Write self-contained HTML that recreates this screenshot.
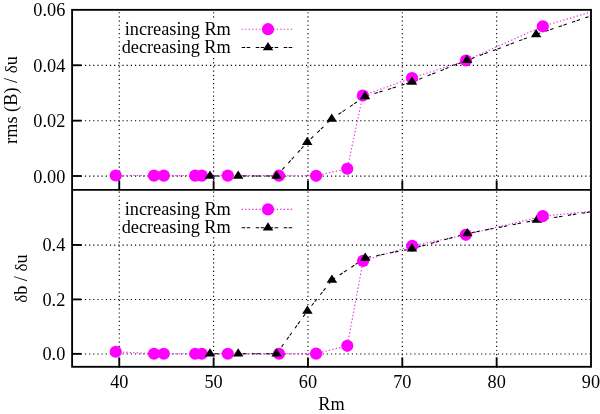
<!DOCTYPE html>
<html><head><meta charset="utf-8"><style>
html,body{margin:0;padding:0;background:#fff;}
body{width:600px;height:414px;overflow:hidden;font-family:"Liberation Serif",serif;}
svg{display:block;will-change:transform}
text{font-family:"Liberation Serif",serif;fill:#000}
</style></head><body>
<svg width="600" height="414" viewBox="0 0 600 414">
<rect width="600" height="414" fill="#fff"/>

<g stroke="#000" stroke-width="1.1" stroke-dasharray="1.2 2.97" fill="none">
<line x1="119.27" y1="367.8" x2="119.27" y2="9.85"/>
<line x1="213.62" y1="367.8" x2="213.62" y2="9.85"/>
<line x1="307.96" y1="367.8" x2="307.96" y2="9.85"/>
<line x1="402.31" y1="367.8" x2="402.31" y2="9.85"/>
<line x1="496.65" y1="367.8" x2="496.65" y2="9.85"/>
<line x1="72.39999999999999" y1="65.4" x2="591.0" y2="65.4"/>
<line x1="72.39999999999999" y1="120.80000000000001" x2="591.0" y2="120.80000000000001"/>
<line x1="72.39999999999999" y1="176.15" x2="591.0" y2="176.15"/>
<line x1="72.39999999999999" y1="245.1" x2="591.0" y2="245.1"/>
<line x1="72.39999999999999" y1="299.54999999999995" x2="591.0" y2="299.54999999999995"/>
<line x1="72.39999999999999" y1="354.0" x2="591.0" y2="354.0"/>
</g>
<polyline points="115.75,175.50 154.00,175.60 163.80,175.60 195.20,175.60 201.80,175.60 227.80,175.60 279.00,175.70 316.10,175.80 347.25,168.75 362.80,95.50 412.00,78.00 466.00,60.50 542.80,26.30 591.00,12.00" fill="none" stroke="#ea20ea" stroke-opacity="0.95" stroke-width="1.1" stroke-dasharray="1.4 2.1"/>
<polyline points="210.00,175.90 238.20,175.90 276.60,175.90 307.20,142.30 331.70,118.90 365.00,96.50 412.00,82.00 467.00,60.30 536.10,34.50 591.00,15.80" fill="none" stroke="#000" stroke-width="1.05" stroke-dasharray="3.5 1.5 3.5 5.5"/>
<circle cx="115.75" cy="175.50" r="6.1" fill="#ff00ff"/>
<circle cx="154.00" cy="175.60" r="6.1" fill="#ff00ff"/>
<circle cx="163.80" cy="175.60" r="6.1" fill="#ff00ff"/>
<circle cx="195.20" cy="175.60" r="6.1" fill="#ff00ff"/>
<circle cx="201.80" cy="175.60" r="6.1" fill="#ff00ff"/>
<circle cx="227.80" cy="175.60" r="6.1" fill="#ff00ff"/>
<circle cx="279.00" cy="175.70" r="6.1" fill="#ff00ff"/>
<circle cx="316.10" cy="175.80" r="6.1" fill="#ff00ff"/>
<circle cx="347.25" cy="168.75" r="6.1" fill="#ff00ff"/>
<circle cx="362.80" cy="95.50" r="6.1" fill="#ff00ff"/>
<circle cx="412.00" cy="78.00" r="6.1" fill="#ff00ff"/>
<circle cx="466.00" cy="60.50" r="6.1" fill="#ff00ff"/>
<path d="M210.00,170.39 L204.75,178.65 L215.25,178.65 Z" fill="#000"/>
<path d="M238.20,170.39 L232.95,178.65 L243.45,178.65 Z" fill="#000"/>
<path d="M276.60,170.39 L271.35,178.65 L281.85,178.65 Z" fill="#000"/>
<path d="M307.20,136.79 L301.95,145.05 L312.45,145.05 Z" fill="#000"/>
<path d="M331.70,113.39 L326.45,121.65 L336.95,121.65 Z" fill="#000"/>
<path d="M365.00,90.99 L359.75,99.25 L370.25,99.25 Z" fill="#000"/>
<path d="M412.00,76.49 L406.75,84.75 L417.25,84.75 Z" fill="#000"/>
<path d="M467.00,54.79 L461.75,63.05 L472.25,63.05 Z" fill="#000"/>
<path d="M536.10,28.99 L530.85,37.25 L541.35,37.25 Z" fill="#000"/>
<circle cx="542.80" cy="26.30" r="6.1" fill="#ff00ff"/>
<polyline points="115.75,351.75 154.00,353.75 163.80,353.75 195.20,353.75 201.80,353.75 227.80,353.75 279.00,353.75 316.10,353.60 347.30,345.80 363.10,260.90 412.25,245.75 465.80,234.80 542.80,216.10 591.00,211.30" fill="none" stroke="#ea20ea" stroke-opacity="0.95" stroke-width="1.1" stroke-dasharray="1.4 2.1"/>
<polyline points="210.00,353.70 238.20,353.70 276.60,353.70 307.40,311.00 331.90,280.10 365.30,257.90 412.00,248.70 467.30,233.50 537.00,220.00 591.00,211.90" fill="none" stroke="#000" stroke-width="1.05" stroke-dasharray="3.5 1.5 3.5 5.5"/>
<circle cx="115.75" cy="351.75" r="6.1" fill="#ff00ff"/>
<circle cx="154.00" cy="353.75" r="6.1" fill="#ff00ff"/>
<circle cx="163.80" cy="353.75" r="6.1" fill="#ff00ff"/>
<circle cx="195.20" cy="353.75" r="6.1" fill="#ff00ff"/>
<circle cx="201.80" cy="353.75" r="6.1" fill="#ff00ff"/>
<circle cx="227.80" cy="353.75" r="6.1" fill="#ff00ff"/>
<circle cx="279.00" cy="353.75" r="6.1" fill="#ff00ff"/>
<circle cx="316.10" cy="353.60" r="6.1" fill="#ff00ff"/>
<circle cx="347.30" cy="345.80" r="6.1" fill="#ff00ff"/>
<circle cx="363.10" cy="260.90" r="6.1" fill="#ff00ff"/>
<circle cx="412.25" cy="245.75" r="6.1" fill="#ff00ff"/>
<circle cx="465.80" cy="234.80" r="6.1" fill="#ff00ff"/>
<path d="M210.00,348.19 L204.75,356.45 L215.25,356.45 Z" fill="#000"/>
<path d="M238.20,348.19 L232.95,356.45 L243.45,356.45 Z" fill="#000"/>
<path d="M276.60,348.19 L271.35,356.45 L281.85,356.45 Z" fill="#000"/>
<path d="M307.40,305.49 L302.15,313.75 L312.65,313.75 Z" fill="#000"/>
<path d="M331.90,274.59 L326.65,282.85 L337.15,282.85 Z" fill="#000"/>
<path d="M365.30,252.39 L360.05,260.65 L370.55,260.65 Z" fill="#000"/>
<path d="M412.00,243.19 L406.75,251.45 L417.25,251.45 Z" fill="#000"/>
<path d="M467.30,227.99 L462.05,236.25 L472.55,236.25 Z" fill="#000"/>
<path d="M537.00,214.49 L531.75,222.75 L542.25,222.75 Z" fill="#000"/>
<circle cx="542.80" cy="216.10" r="6.1" fill="#ff00ff"/>
<rect x="121.5" y="20.20" width="111" height="36.6" fill="#fff"/>
<text x="230.8" y="35" font-size="18.3" text-anchor="end">increasing Rm</text>
<text x="230.8" y="53.2" font-size="18.3" text-anchor="end">decreasing Rm</text>
<line x1="241.7" y1="29.2" x2="293.3" y2="29.2" stroke="#ea20ea" stroke-opacity="0.95" stroke-width="1.1" stroke-dasharray="1.4 2.1"/>
<circle cx="268.00" cy="29.20" r="6.1" fill="#ff00ff"/>
<line x1="241.7" y1="47.5" x2="293.3" y2="47.5" stroke="#000" stroke-width="1.05" stroke-dasharray="3.5 1.5 3.5 5.5"/>
<path d="M268.00,41.99 L262.75,50.25 L273.25,50.25 Z" fill="#000"/>
<rect x="121.5" y="200.40" width="111" height="36.6" fill="#fff"/>
<text x="230.8" y="215.2" font-size="18.3" text-anchor="end">increasing Rm</text>
<text x="230.8" y="233.39999999999998" font-size="18.3" text-anchor="end">decreasing Rm</text>
<line x1="241.7" y1="209.39999999999998" x2="293.3" y2="209.39999999999998" stroke="#ea20ea" stroke-opacity="0.95" stroke-width="1.1" stroke-dasharray="1.4 2.1"/>
<circle cx="268.00" cy="209.40" r="6.1" fill="#ff00ff"/>
<line x1="241.7" y1="227.7" x2="293.3" y2="227.7" stroke="#000" stroke-width="1.05" stroke-dasharray="3.5 1.5 3.5 5.5"/>
<path d="M268.00,222.19 L262.75,230.45 L273.25,230.45 Z" fill="#000"/>
<g stroke="#000" stroke-width="1.85" fill="none">
<rect x="72.1" y="9.85" width="518.9" height="356.95"/>
<line x1="72.1" y1="189.9" x2="591.0" y2="189.9"/>
<line x1="72.1" y1="65.25" x2="81.5" y2="65.25"/>
<line x1="72.1" y1="120.65" x2="81.5" y2="120.65"/>
<line x1="72.1" y1="176.0" x2="81.5" y2="176.0"/>
<line x1="72.1" y1="244.95" x2="81.5" y2="244.95"/>
<line x1="72.1" y1="299.4" x2="81.5" y2="299.4"/>
<line x1="72.1" y1="353.85" x2="81.5" y2="353.85"/>
<line x1="119.27" y1="189.9" x2="119.27" y2="180.5"/>
<line x1="119.27" y1="366.8" x2="119.27" y2="357.40000000000003"/>
<line x1="213.62" y1="189.9" x2="213.62" y2="180.5"/>
<line x1="213.62" y1="366.8" x2="213.62" y2="357.40000000000003"/>
<line x1="307.96" y1="189.9" x2="307.96" y2="180.5"/>
<line x1="307.96" y1="366.8" x2="307.96" y2="357.40000000000003"/>
<line x1="402.31" y1="189.9" x2="402.31" y2="180.5"/>
<line x1="402.31" y1="366.8" x2="402.31" y2="357.40000000000003"/>
<line x1="496.65" y1="189.9" x2="496.65" y2="180.5"/>
<line x1="496.65" y1="366.8" x2="496.65" y2="357.40000000000003"/>
</g>
<text x="65.3" y="16.15" font-size="18.3" text-anchor="end">0.06</text>
<text x="65.3" y="71.55" font-size="18.3" text-anchor="end">0.04</text>
<text x="65.3" y="126.95" font-size="18.3" text-anchor="end">0.02</text>
<text x="65.3" y="182.60" font-size="18.3" text-anchor="end">0.00</text>
<text x="65.3" y="251.25" font-size="18.3" text-anchor="end">0.4</text>
<text x="65.3" y="305.70" font-size="18.3" text-anchor="end">0.2</text>
<text x="65.3" y="360.15" font-size="18.3" text-anchor="end">0.0</text>
<text x="119.27" y="388.4" font-size="18.3" text-anchor="middle">40</text>
<text x="213.62" y="388.4" font-size="18.3" text-anchor="middle">50</text>
<text x="307.96" y="388.4" font-size="18.3" text-anchor="middle">60</text>
<text x="402.31" y="388.4" font-size="18.3" text-anchor="middle">70</text>
<text x="496.65" y="388.4" font-size="18.3" text-anchor="middle">80</text>
<text x="591.00" y="388.4" font-size="18.3" text-anchor="middle">90</text>
<text x="331.5" y="409.5" font-size="18.3" text-anchor="middle">Rm</text>
<text transform="translate(16.5,100) rotate(-90)" font-size="18.3" text-anchor="middle">rms (B) / <tspan font-size="17">δ</tspan>u</text>
<text transform="translate(26.5,278.6) rotate(-90)" font-size="18.3" text-anchor="middle"><tspan font-size="17">δ</tspan>b / <tspan font-size="17">δ</tspan>u</text>
</svg></body></html>
